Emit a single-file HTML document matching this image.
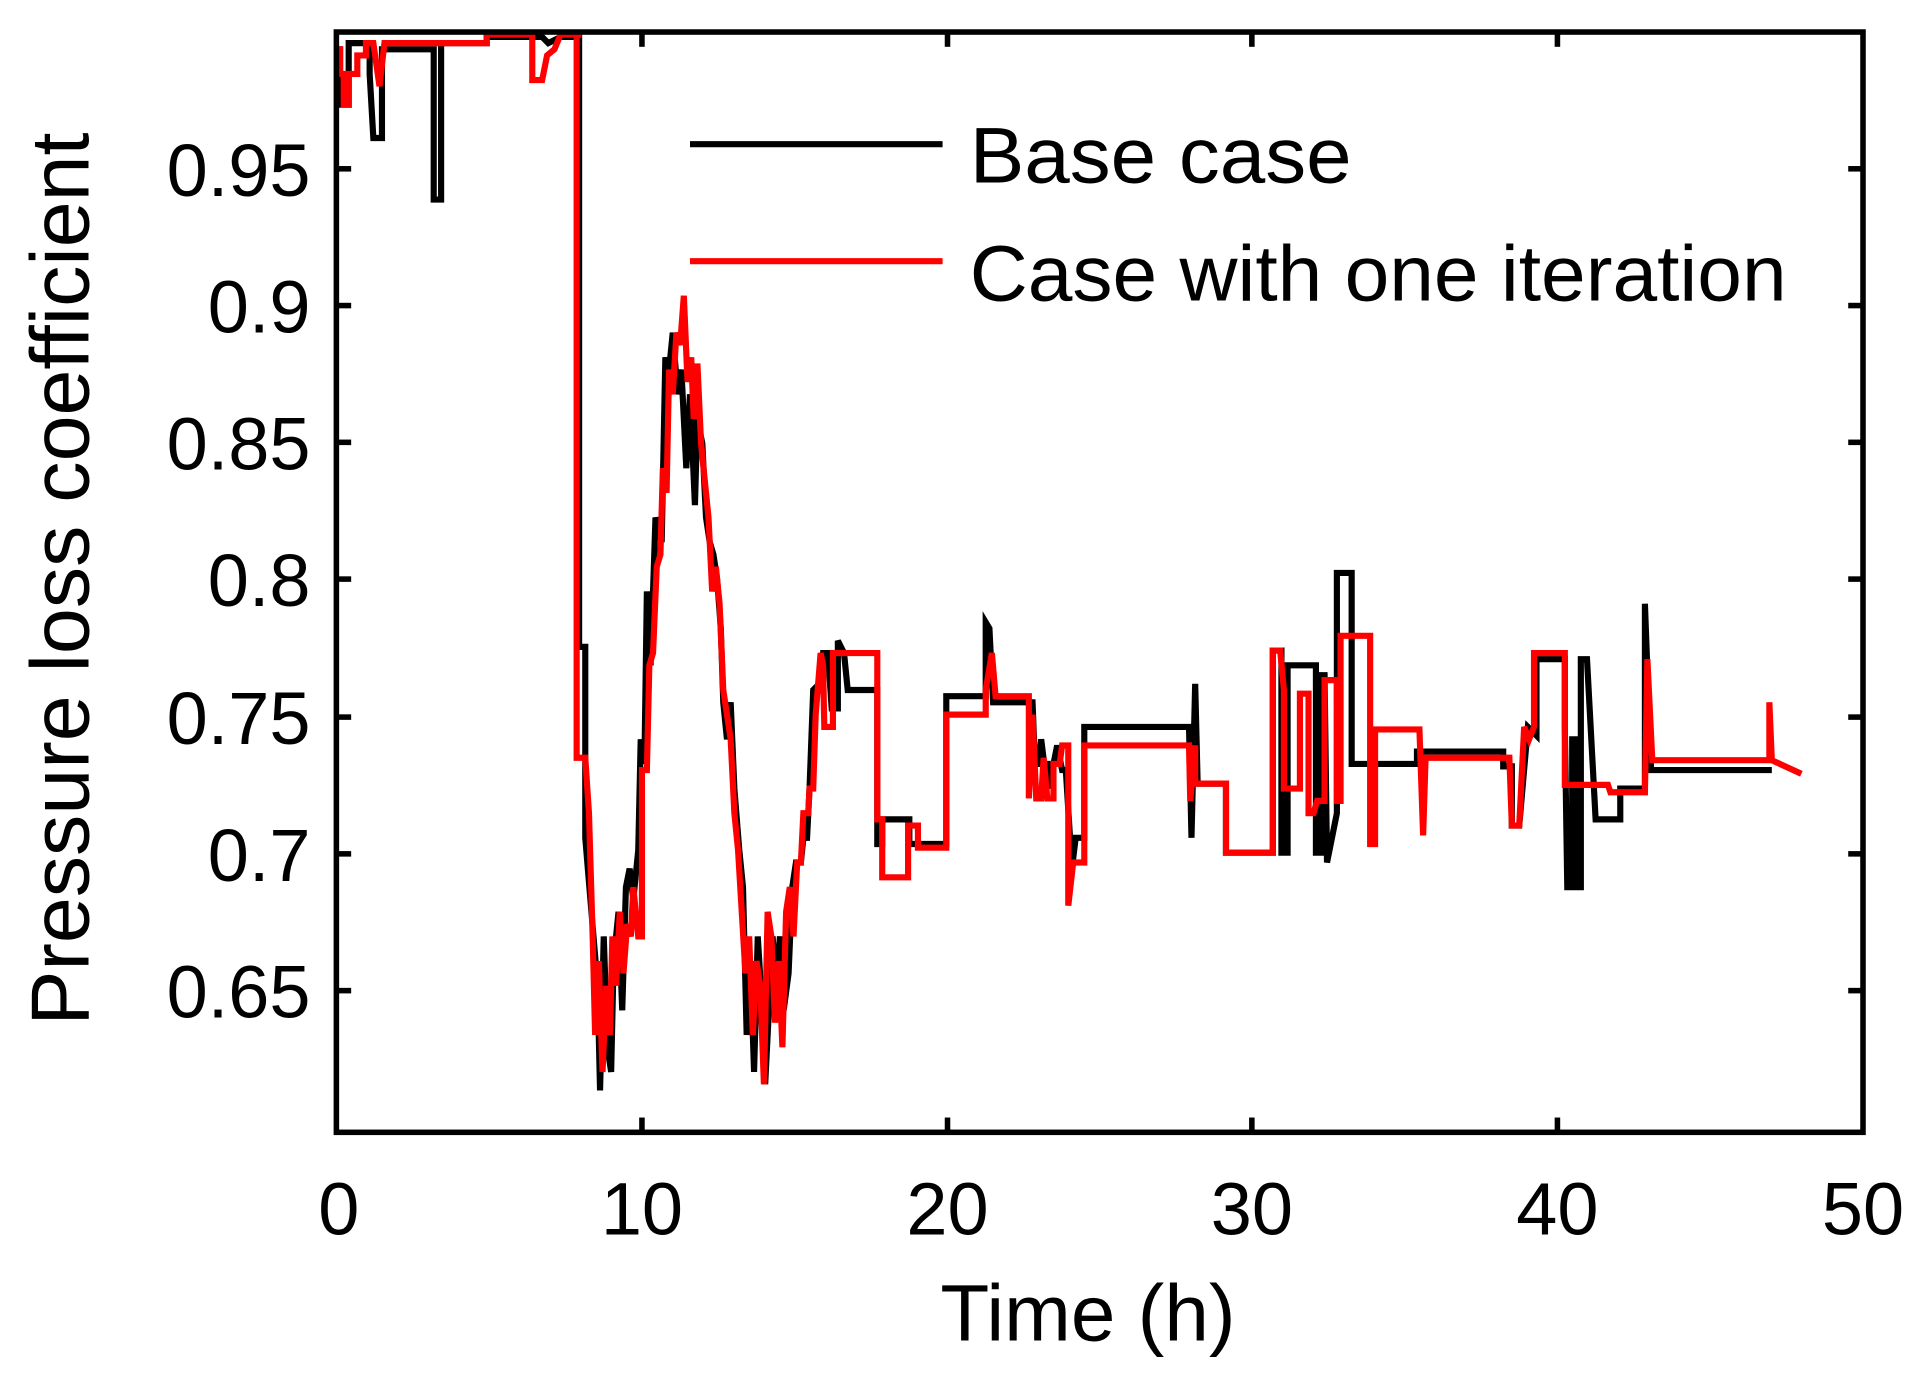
<!DOCTYPE html>
<html><head><meta charset="utf-8"><style>html,body{margin:0;padding:0;background:#fff}svg{display:block}</style></head>
<body>
<svg width="1932" height="1387" viewBox="0 0 1568 1125.7" preserveAspectRatio="none" xmlns="http://www.w3.org/2000/svg" font-family="Liberation Sans, Arial, sans-serif">
<rect width="1568" height="1126" fill="#fff"/>
<g fill="none" stroke-linejoin="miter">
<path stroke="#000" stroke-width="5" d="M273,40 L276,40 L276,85 L283,85 L283,35 L300,35 L300,60 L303,112 L310,112 L310,40 L352,40 L352,162 L358,162 L358,35 L395,35 L395,30 L440,30 L445,35 L455,30 L470,30 L470,525 L475,525 L475,680 L480,740 L485,800 L487,885 L490,760 L493,850 L496,870 L498,780 L502,740 L505,820 L508,720 L511,705 L514,730 L518,690 L520,600 L523,620 L525,480 L528,540 L532,420 L537,440 L540,290 L543,300 L546,270 L550,320 L553,300 L557,380 L560,320 L564,410 L566,340 L570,360 L573,420 L576,440 L579,450 L582,470 L585,510 L587,570 L590,600 L593,570 L596,640 L600,690 L603,720 L606,840 L609,780 L612,870 L615,760 L618,810 L621,880 L624,820 L627,760 L630,800 L633,760 L636,820 L640,790 L643,720 L646,700 L650,700 L652,680 L655,680 L657,640 L660,560 L665,555 L668,530 L672,530 L675,575 L680,575 L680,520 L685,530 L688,560 L712,560 L712,685 L716,685 L716,665 L738,665 L738,685 L768,685 L768,565 L800,565 L800,505 L803,510 L806,570 L838,570 L840,620 L843,620 L845,600 L850,640 L852,620 L855,620 L858,605 L862,625 L865,625 L870,705 L873,680 L880,680 L880,590 L965,590 L967,680 L970,555 L972,636 L995,636 L995,692 L1033,692 L1033,528 L1040,528 L1040,692 L1045,692 L1045,540 L1068,540 L1068,692 L1072,692 L1072,548 L1075,548 L1077,700 L1085,660 L1085,465 L1097,465 L1097,620 L1150,620 L1150,610 L1220,610 L1220,622 L1227,622 L1227,670 L1233,670 L1240,590 L1247,597 L1247,535 L1270,535 L1270,590 L1272,720 L1276,720 L1276,600 L1280,600 L1280,720 L1283,720 L1283,535 L1288,535 L1295,665 L1315,665 L1315,640 L1335,640 L1335,490 L1340,625 L1438,625"/>
<path stroke="#f00" stroke-width="5" d="M273,40 L276,40 L276,60 L279,60 L279,85 L283,85 L283,60 L290,60 L290,45 L297,45 L297,35 L303,35 L308,70 L312,35 L395,35 L395,28 L432,28 L432,65 L440,65 L444,45 L450,40 L455,28 L472,28 L468,28 L468,615 L475,615 L478,660 L481,760 L483,840 L486,780 L489,870 L492,800 L495,840 L497,760 L500,800 L503,740 L506,790 L509,750 L512,760 L514,720 L518,760 L521,760 L521,625 L525,625 L527,540 L530,530 L533,460 L536,450 L538,380 L541,400 L543,300 L546,320 L549,270 L552,280 L555,240 L558,310 L561,290 L563,340 L566,295 L569,360 L572,390 L575,420 L578,480 L581,460 L584,490 L587,560 L590,580 L593,600 L596,660 L599,690 L602,740 L605,790 L608,760 L611,840 L614,780 L617,800 L620,880 L623,740 L626,760 L629,830 L632,780 L635,850 L638,740 L641,720 L644,760 L647,700 L650,700 L652,660 L656,660 L657,640 L660,640 L662,580 L666,530 L668,540 L669,590 L676,590 L676,530 L712,530 L712,665 L716,665 L716,712 L737,712 L737,670 L745,670 L745,688 L768,688 L768,580 L800,580 L800,560 L805,530 L808,565 L835,565 L835,648 L838,580 L841,648 L845,648 L847,615 L850,648 L855,648 L855,620 L860,620 L862,605 L867,605 L867,735 L871,700 L880,700 L880,605 L965,605 L966,650 L970,605 L970,636 L995,636 L995,692 L1033,692 L1033,528 L1039,528 L1042,560 L1042,640 L1055,640 L1055,563 L1062,563 L1062,660 L1066,660 L1069,650 L1075,650 L1075,552 L1085,552 L1085,650 L1088,650 L1088,516 L1112,516 L1112,685 L1116,685 L1116,592 L1152,592 L1155,678 L1157,615 L1225,615 L1227,670 L1233,670 L1237,590 L1241,600 L1245,590 L1245,530 L1270,530 L1270,637 L1305,637 L1307,643 L1335,643 L1337,535 L1341,617 L1436,617 L1436,570 L1438,617 L1462,628"/>
</g>
<rect x="273" y="26" width="1239" height="893" fill="none" stroke="#000" stroke-width="4.5"/>
<g stroke="#000" stroke-width="4.5">
<line x1="273" y1="137" x2="285" y2="137"/><line x1="1512" y1="137" x2="1500" y2="137"/>
<line x1="273" y1="248" x2="285" y2="248"/><line x1="1512" y1="248" x2="1500" y2="248"/>
<line x1="273" y1="359" x2="285" y2="359"/><line x1="1512" y1="359" x2="1500" y2="359"/>
<line x1="273" y1="470" x2="285" y2="470"/><line x1="1512" y1="470" x2="1500" y2="470"/>
<line x1="273" y1="582" x2="285" y2="582"/><line x1="1512" y1="582" x2="1500" y2="582"/>
<line x1="273" y1="693" x2="285" y2="693"/><line x1="1512" y1="693" x2="1500" y2="693"/>
<line x1="273" y1="804" x2="285" y2="804"/><line x1="1512" y1="804" x2="1500" y2="804"/>
<line x1="521" y1="919" x2="521" y2="907"/><line x1="521" y1="26" x2="521" y2="38"/>
<line x1="769" y1="919" x2="769" y2="907"/><line x1="769" y1="26" x2="769" y2="38"/>
<line x1="1016" y1="919" x2="1016" y2="907"/><line x1="1016" y1="26" x2="1016" y2="38"/>
<line x1="1264" y1="919" x2="1264" y2="907"/><line x1="1264" y1="26" x2="1264" y2="38"/>
</g>
<g font-size="60" fill="#000" text-anchor="end">
<text x="252" y="159">0.95</text><text x="252" y="270">0.9</text><text x="252" y="381">0.85</text>
<text x="252" y="492">0.8</text><text x="252" y="604">0.75</text><text x="252" y="715">0.7</text><text x="252" y="826">0.65</text>
</g>
<g font-size="60" fill="#000" text-anchor="middle">
<text x="275" y="1002">0</text><text x="521" y="1002">10</text><text x="769" y="1002">20</text>
<text x="1016" y="1002">30</text><text x="1264" y="1002">40</text><text x="1512" y="1002">50</text>
<text x="883" y="1088" font-size="65">Time (h)</text>
<text transform="translate(72,470) rotate(-90)" font-size="67">Pressure loss coefficient</text>
</g>
<line x1="560" y1="117" x2="765" y2="117" stroke="#000" stroke-width="5"/>
<line x1="560" y1="212" x2="765" y2="212" stroke="#f00" stroke-width="5"/>
<text x="787" y="148" font-size="64" textLength="310" lengthAdjust="spacingAndGlyphs">Base case</text>
<text x="787" y="244" font-size="64" textLength="663" lengthAdjust="spacingAndGlyphs">Case with one iteration</text>
</svg>
</body></html>
